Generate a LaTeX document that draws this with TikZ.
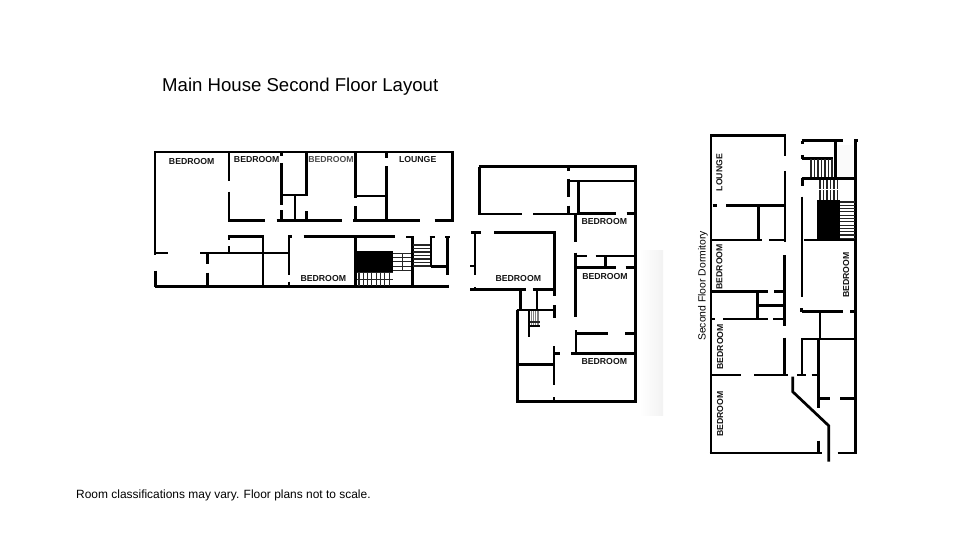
\documentclass[tikz,border=0pt]{standalone}
\usepackage{fontspec}
\setmainfont{Liberation Sans}
\tikzset{
  wall/.style={draw=black,line width=2.7pt,line cap=butt},
  tread/.style={draw=black!85,line width=1.1pt},
  gtread/.style={draw=black!50,line width=0.7pt},
  solidblock/.style={fill=black,draw=none},
  roomlabel/.style={inner sep=0pt,text=black!92,font=\fontsize{8.7}{10}\selectfont\bfseries},
  titletext/.style={inner sep=0pt,anchor=west,font=\fontsize{18.6}{22}\selectfont},
  notetext/.style={inner sep=0pt,anchor=west,font=\fontsize{11.95}{14}\selectfont},
  sidetext/.style={inner sep=0pt,rotate=90,font=\fontsize{10.4}{12}\selectfont}
}
\begin{document}
\begin{tikzpicture}[x=1pt,y=-1pt]
\useasboundingbox (0,0) rectangle (960,540);
\shade[left color=white,right color=black!5,shading angle=90] (640,250) rectangle (663,415);
\fill[black!2] (838,145) rectangle (853,178);

\node[titletext] (title) at (162,87) {Main House Second Floor Layout};
\node[notetext] (note) at (76,495) {Room classifications may vary. Floor plans not to scale.};
\node[sidetext] (dorm) at (703,286) {Second Floor Dormitory};

% ---------- plan 1
\draw[wall] (154,152) -- (453.5,152);
\draw[wall] (155,152) -- (155,255);
\draw[wall] (155,253) -- (168,253);
\draw[wall] (155.5,270.5) -- (155.5,287);
\draw[wall] (154.5,286.7) -- (449,286.7);
\draw[wall] (452.3,152) -- (452.3,221.5);
\draw[wall] (229,220.5) -- (264.5,220.5);
\draw[wall] (276.5,220.5) -- (341.5,220.5);
\draw[wall] (353,220.5) -- (420,220.5);
\draw[wall] (434.5,220.5) -- (453.5,220.5);
\draw[wall] (229,152) -- (229,181);
\draw[wall] (229,191.5) -- (229,221.5);
\draw[wall] (281.7,152) -- (281.7,156);
\draw[wall] (281.7,163) -- (281.7,205);
\draw[wall] (281.7,210) -- (281.7,220);
\draw[wall] (306.3,152) -- (306.3,195);
\draw[wall] (306.3,211) -- (306.3,220);
\draw[wall] (280.5,195) -- (307.5,195);
\draw[wall] (295,195) -- (295,220);
\draw[wall] (355.7,152) -- (355.7,198);
\draw[wall] (355.7,206) -- (355.7,220);
\draw[wall] (356,196) -- (386.7,196);
\draw[wall] (386.7,152) -- (386.7,158);
\draw[wall] (386.7,166.5) -- (386.7,220);
\draw[wall] (228.5,236.7) -- (264,236.7);
\draw[wall] (229,235) -- (229,240);
\draw[wall] (229,246) -- (229,253);
\draw[wall] (263,236.7) -- (263,287);
\draw[wall] (200,253) -- (289,253);
\draw[wall] (207.3,253) -- (207.3,263.5);
\draw[wall] (207.3,272.5) -- (207.3,287);
\draw[wall] (289,236) -- (289,275);
\draw[wall] (289,281.5) -- (289,287);
\draw[wall] (288,236.7) -- (292,236.7);
\draw[wall] (303.5,236.7) -- (395,236.7);
\draw[wall] (355.7,236.7) -- (355.7,287);
\fill[solidblock] (355.7,251) rectangle (393.3,271.7);
\draw[tread] (357,272.5) -- (392.5,272.5) (357,279.5) -- (392.5,279.5);
\foreach \x in {359,363.3,...,392} \draw[tread] (\x,272.5) -- (\x,286);
\foreach \y in {253.5,257.7,261.9,266.1,270.3} \draw[tread] (393,\y) -- (412,\y);
\draw[tread] (402.5,253) -- (402.5,271);
\draw[wall] (406,237) -- (413.8,237);
\draw[wall] (412.7,236) -- (412.7,287);
\foreach \y in {245,248.5,252,255.5,259,262.5,266} \draw[tread] (413,\y) -- (431,\y);
\draw[wall] (431,236) -- (431,267);
\draw[wall] (429.5,237) -- (435,237);
\draw[wall] (431,266.7) -- (449,266.7);
\draw[wall] (447.7,236) -- (447.7,275);
\draw[wall] (445,237) -- (450,237);
\draw[wall] (447.7,284.5) -- (447.7,288);

\node[roomlabel] (b1) at (191.7,161.7) {BEDROOM};
\node[roomlabel] (b2) at (256.7,160) {BEDROOM};
\node[roomlabel,text=black!70] (b3) at (331,160) {BEDROOM};
\node[roomlabel] (l1) at (417.7,159.7) {LOUNGE};
\node[roomlabel] (b4) at (323.3,278.7) {BEDROOM};

% ---------- plan 2
\draw[wall] (478.5,166.7) -- (637,166.7);
\draw[wall] (479.7,166.7) -- (479.7,214.5);
\draw[wall] (478.5,214) -- (522.3,214);
\draw[wall] (533.3,214) -- (576.7,214);
\draw[wall] (576.7,213.5) -- (615.7,213.5);
\draw[wall] (626.7,213.5) -- (636,213.5);
\draw[wall] (635.7,166.7) -- (635.7,402.5);
\draw[wall] (568.3,181) -- (636,181);
\draw[wall] (568.3,166.7) -- (568.3,171);
\draw[wall] (568.3,179) -- (568.3,196.7);
\draw[wall] (568.3,205.7) -- (568.3,214);
\draw[wall] (578.3,181) -- (578.3,213);
\draw[wall] (575.7,214) -- (575.7,242.3);
\draw[wall] (575.7,252.7) -- (575.7,316.7);
\draw[wall] (575.7,256) -- (586.7,256);
\draw[wall] (595.7,256) -- (635,256);
\draw[wall] (605.3,256) -- (605.3,267.5);
\draw[wall] (575.7,267.3) -- (615.7,267.3);
\draw[wall] (625.7,267.3) -- (635,267.3);
\draw[wall] (471,232.3) -- (481,232.3);
\draw[wall] (494.3,232.3) -- (555.5,232.3);
\draw[wall] (475,232) -- (475,275);
\draw[wall] (470,266) -- (475,266);
\draw[wall] (554.3,232.3) -- (554.3,295.7);
\draw[wall] (554.3,305) -- (554.3,317.7);
\draw[wall] (470,289.7) -- (525.7,289.7);
\draw[wall] (475,287) -- (475,289.7);
\draw[wall] (532.7,289.7) -- (554,289.7);
\draw[wall] (520.7,289.7) -- (520.7,310);
\draw[wall] (537,289.7) -- (537,310);
\draw[wall] (516.5,310) -- (554,310);
\draw[wall] (517.7,310) -- (517.7,402.5);
\foreach \x in {531.5,533.3,...,539} \draw[gtread] (\x,311) -- (\x,325);
\draw[tread] (530,322) -- (540,322);
\draw[wall] (528,326) -- (540,326);
\draw[wall] (529,311) -- (529,336.7);
\draw[wall] (576,330) -- (576,353.3);
\draw[wall] (576,333.3) -- (608.3,333.3);
\draw[wall] (625,333.3) -- (635.7,333.3);
\draw[wall] (571,353.3) -- (635.7,353.3);
\draw[wall] (554,353.3) -- (560,353.3);
\draw[wall] (554,346) -- (554,385);
\draw[wall] (554,397.3) -- (554,401.7);
\draw[wall] (518.3,364.7) -- (554,364.7);
\draw[wall] (516.5,401.3) -- (637,401.3);

\node[roomlabel] (b5) at (604.3,221.4) {BEDROOM};
\node[roomlabel] (b6) at (518.3,278.7) {BEDROOM};
\node[roomlabel] (b7) at (605,276.7) {BEDROOM};
\node[roomlabel] (b8) at (604.3,362) {BEDROOM};

% ---------- plan 3
\draw[wall] (710,135.7) -- (786,135.7);
\draw[wall] (711,135.7) -- (711,454);
\draw[wall] (785,135.7) -- (785,155.7);
\draw[wall] (785,171) -- (785,242.3);
\draw[wall] (784.5,255) -- (784.5,325.7);
\draw[wall] (784.5,337.7) -- (784.5,375);
\draw[wall] (712.7,205.7) -- (717.3,205.7);
\draw[wall] (726,205.7) -- (784,205.7);
\draw[wall] (758.3,205.7) -- (758.3,240);
\draw[wall] (711,240) -- (761.7,240);
\draw[wall] (769,240) -- (785,240);
\draw[wall] (711,291.7) -- (767.7,291.7);
\draw[wall] (774,291.7) -- (784.3,291.7);
\draw[wall] (757.7,291.7) -- (757.7,319);
\draw[wall] (758,305.7) -- (784.3,305.7);
\draw[wall] (711.7,319) -- (715,319);
\draw[wall] (723.3,319) -- (767.7,319);
\draw[wall] (773.3,319) -- (784.3,319);
\draw[wall] (710.7,375) -- (740.7,375);
\draw[wall] (754,375) -- (788.3,375);
\draw[wall] (797.3,375) -- (806,375);
\draw[wall] (811.7,375) -- (818.3,375);
\draw[wall] (709.5,453) -- (821.7,453);
\draw[wall] (837.7,453) -- (856.5,453);
\draw[wall] (818.3,440.7) -- (818.3,453);
\draw[wall,line join=miter] (792.7,376.7) -- (792.7,391.7) -- (828.7,425.7) -- (828.7,461.7);
\draw[wall] (818.7,339) -- (818.7,408.3);
\draw[wall] (820,311.7) -- (820,340);
\draw[wall] (801,339) -- (855.5,339);
\draw[wall] (802,339) -- (802,375);
\draw[wall] (801.7,311.7) -- (843.3,311.7);
\draw[wall] (850,311.7) -- (855,311.7);
\draw[wall] (801.7,308) -- (801.7,312);
\draw[wall] (819.3,398.3) -- (830,398.3);
\draw[wall] (840,398.3) -- (855,398.3);
\draw[wall] (855.7,140) -- (855.7,454);
\draw[wall] (802,196.7) -- (802,297);
\draw[wall] (801.5,140.7) -- (843.3,140.7);
\draw[wall] (854,140.7) -- (857.7,140.7);
\draw[wall] (802.5,140.7) -- (802.5,144);
\draw[wall] (835.3,140.7) -- (835.3,178);
\draw[wall] (801.7,158.3) -- (833.3,158.3);
\draw[wall] (802.5,155) -- (802.5,159);
\draw[wall] (801.7,178.3) -- (855.7,178.3);
\draw[wall] (802.5,178) -- (802.5,186);
\foreach \x in {811,814.5,...,834} \draw[tread] (\x,159) -- (\x,177);
\foreach \x in {820,823.5,...,839} \draw[tread] (\x,180) -- (\x,200);
\draw[tread,draw=white,line width=1pt] (819,189.5) -- (839,189.5);
\fill[solidblock] (817.3,200) rectangle (840,241);
\foreach \y in {202,205.3,...,239} \draw[tread] (840,\y) -- (855,\y);
\draw[wall] (804,240) -- (855.7,240);

\node[roomlabel,rotate=90] (l2) at (719.3,172.7) {LOUNGE};
\node[roomlabel,rotate=90] (b9) at (719.3,266.7) {BEDROOM};
\node[roomlabel,rotate=90] (b10) at (846,275) {BEDROOM};
\node[roomlabel,rotate=90] (b11) at (720,346.7) {BEDROOM};
\node[roomlabel,rotate=90] (b12) at (720,414) {BEDROOM};
\end{tikzpicture}
\end{document}
